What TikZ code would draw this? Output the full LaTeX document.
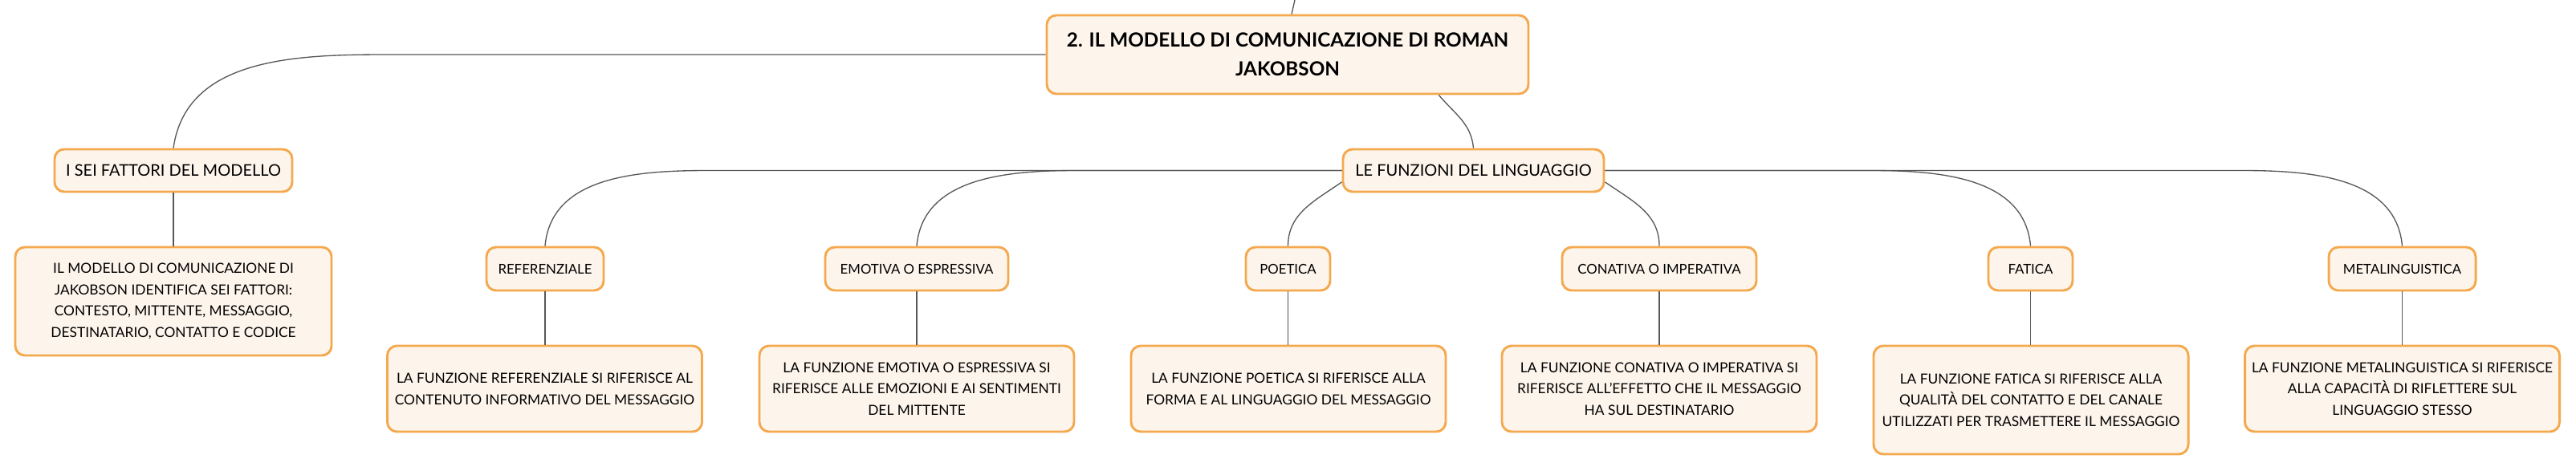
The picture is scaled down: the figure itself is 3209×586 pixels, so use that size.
\documentclass[tikz,border=0pt]{standalone}
\usepackage{fontspec}
\setmainfont{Lato}
\usetikzlibrary{calc}
\definecolor{accent}{RGB}{244,169,78}
\definecolor{cream}{RGB}{253,245,236}
\definecolor{wire}{RGB}{88,88,88}
\tikzset{
  card/.style={draw=accent, fill=cream, line width=2.2pt, rounded corners=9pt, align=center, inner sep=0pt, text=black},
  topic/.style={card, minimum width=450pt, minimum height=73.5pt, font=\fontsize{18.2}{27}\selectfont\bfseries},
  branch/.style={card, minimum height=39.75pt, font=\fontsize{15}{20}\selectfont},
  leaf/.style={card, minimum height=40.5pt, font=\fontsize{12.6}{18}\selectfont},
  note/.style={card, minimum width=294pt, minimum height=80.25pt, font=\fontsize{13}{20}\selectfont},
  link/.style={draw=wire, line width=1pt}
}

\begin{document}
\begin{tikzpicture}[x=0.75pt,y=-0.75pt]
                \useasboundingbox (0,0) rectangle (3209,586);
                \node[topic] (root) at (1604,68) {2. IL MODELLO DI COMUNICAZIONE DI ROMAN\\JAKOBSON};
                \coordinate (up) at (1613,0);

                \node[branch, minimum width=222pt] (sei) at (216,212.5) {I SEI FATTORI DEL MODELLO};
                \node[note, minimum width=295.5pt, minimum height=101.25pt] (seid) at (216,375.5) {IL MODELLO DI COMUNICAZIONE DI\\JAKOBSON IDENTIFICA SEI FATTORI:\\CONTESTO, MITTENTE, MESSAGGIO,\\DESTINATARIO, CONTATTO E CODICE};
                \node[branch, minimum width=243.75pt] (lf) at (1835.5,212.5) {LE FUNZIONI DEL LINGUAGGIO};

                \node[leaf, minimum width=109.5pt] (ref) at (679,335) {REFERENZIALE};
                \node[leaf, minimum width=171pt] (emo) at (1142,335) {EMOTIVA O ESPRESSIVA};
                \node[leaf, minimum width=78.75pt] (poe) at (1604.5,335) {POETICA};
                \node[leaf, minimum width=181.5pt] (con) at (2067,335) {CONATIVA O IMPERATIVA};
                \node[leaf, minimum width=78.75pt] (fat) at (2529.5,335) {FATICA};
                \node[leaf, minimum width=137.25pt] (met) at (2992.5,335) {METALINGUISTICA};

                \node[note] (refd) at (678.5,484.5) {LA FUNZIONE REFERENZIALE SI RIFERISCE AL\\CONTENUTO INFORMATIVO DEL MESSAGGIO};
                \node[note] (emod) at (1142,484.5) {LA FUNZIONE EMOTIVA O ESPRESSIVA SI\\RIFERISCE ALLE EMOZIONI E AI SENTIMENTI\\DEL MITTENTE};
                \node[note] (poed) at (1605,484.5) {LA FUNZIONE POETICA SI RIFERISCE ALLA\\FORMA E AL LINGUAGGIO DEL MESSAGGIO};
                \node[note] (cond) at (2067,484.5) {LA FUNZIONE CONATIVA O IMPERATIVA SI\\RIFERISCE ALL'EFFETTO CHE IL MESSAGGIO\\HA SUL DESTINATARIO};
                \node[note, minimum height=101.25pt] (fatd) at (2530,498.5) {LA FUNZIONE FATICA SI RIFERISCE ALLA\\QUALITÀ DEL CONTATTO E DEL CANALE\\UTILIZZATI PER TRASMETTERE IL MESSAGGIO};
                \node[note] (metd) at (2992.5,484.5) {LA FUNZIONE METALINGUISTICA SI RIFERISCE\\ALLA CAPACITÀ DI RIFLETTERE SUL\\LINGUAGGIO STESSO};

                \draw[link] ($(root.north)+(5,0)$) -- (up);
                \draw[link] (root.west) -- ($(sei.north |- root.west)+(268,0)$) to[out=180,in=82] (sei.north);
                \draw[link] (root.-15.6) to[out=-50,in=95] (lf.north);

                \draw[link] (lf.west) -- ($(ref.north |- lf.west)+(204,0)$) to[out=180,in=85] (ref.north);
                \draw[link] (lf.west) -- ($(emo.north |- lf.west)+(200,0)$) to[out=180,in=85] (emo.north);
                \draw[link] (lf.185) to[out=215,in=90] (poe.north);
                \draw[link] (lf.355) to[out=-35,in=90] (con.north);
                \draw[link] (lf.east) -- ($(fat.north |- lf.east)+(-200,0)$) to[out=0,in=95] (fat.north);
                \draw[link] (lf.east) -- ($(met.north |- lf.east)+(-200,0)$) to[out=0,in=95] (met.north);

                \foreach \a/\b in {sei/seid, ref/refd, emo/emod, poe/poed, con/cond, fat/fatd, met/metd}
                    \draw[link] (\a.south) -- (\a.south |- \b.north);
            \end{tikzpicture}
\end{document}
